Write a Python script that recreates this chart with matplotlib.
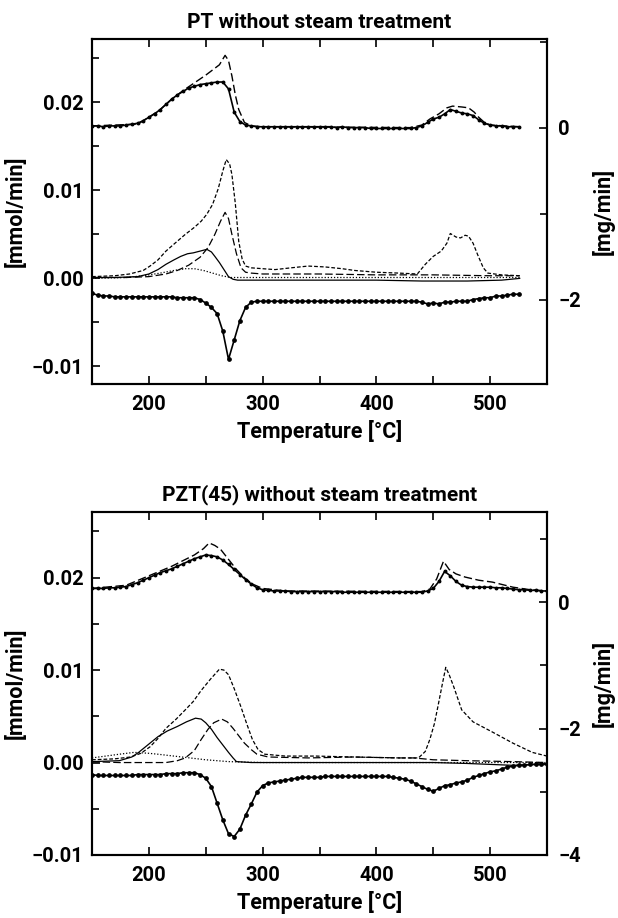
import matplotlib
matplotlib.use("Agg")
import matplotlib.pyplot as plt
from matplotlib.ticker import FixedLocator, FuncFormatter

plt.rcParams['font.family'] = ['Roboto', 'DejaVu Sans']
plt.rcParams['font.weight'] = 'bold'
plt.rcParams['axes.labelweight'] = 'bold'
plt.rcParams['axes.titleweight'] = 'bold'

"""
PT without steam treatment
upper curves -> right axis [mg/min], lower curves -> left axis [mmol/min]
"""
pt_up_T = list(range(150, 530, 5))
pt_up_solid = [0.02, 0.02, 0.01, 0.02, 0.02, 0.02, 0.03, 0.04, 0.05, 0.08,
               0.12, 0.16, 0.21, 0.27, 0.33, 0.38, 0.42, 0.46, 0.48, 0.50,
               0.51, 0.52, 0.53, 0.53, 0.45, 0.18, 0.07, 0.03, 0.02, 0.01,
               0.01, 0.01, 0.01, 0.01, 0.01, 0.01, 0.01, 0.01, 0.01, 0.01,
               0.01, 0.01, 0.01, 0.00, 0.01, 0.00, 0.00, 0.00, 0.00, -0.01,
               -0.01, -0.01, -0.01, -0.01, -0.01, -0.01, -0.01, 0.00, 0.02, 0.06,
               0.10, 0.12, 0.16, 0.21, 0.19, 0.17, 0.16, 0.14, 0.09, 0.05,
               0.03, 0.02, 0.02, 0.01, 0.01, 0.01]
pt_up_dash_T = [150, 190, 200, 210, 220, 230, 240, 250, 256, 262, 267, 270, 273, 276,
                279, 284, 290, 300, 430, 440, 447, 455, 462, 467, 475, 481, 486, 490,
                495, 500, 526]
pt_up_dash = [0.02, 0.04, 0.12, 0.21, 0.33, 0.43, 0.52, 0.61, 0.67, 0.73, 0.84, 0.78, 0.60, 0.38,
              0.21, 0.06, 0.02, 0.01, 0.00, 0.03, 0.10, 0.16, 0.23, 0.25, 0.24, 0.23, 0.18, 0.12,
              0.06, 0.03, 0.01]

pt_a_T = [150, 170, 183, 195, 201, 208, 215, 223, 232, 240, 246, 251, 256, 261, 265, 268,
          271, 273, 276, 279, 282, 285, 290, 300, 311, 325, 340, 355, 370, 381, 400, 420,
          436, 443, 450, 457, 462, 465, 470, 474, 478, 481, 485, 489, 494, 498, 510, 526]
pt_a = [0.0002, 0.0003, 0.0005, 0.0009, 0.0014, 0.0021, 0.0031, 0.0040, 0.0050, 0.0058,
        0.0065, 0.0073, 0.0084, 0.0102, 0.0122, 0.0135, 0.0130, 0.0118, 0.0085, 0.0042,
        0.0022, 0.0014, 0.0012, 0.0011, 0.0010, 0.0012, 0.0014, 0.0013, 0.0011, 0.0009,
        0.0007, 0.0006, 0.0005, 0.0016, 0.0025, 0.0031, 0.0040, 0.0051, 0.0047, 0.0046,
        0.0049, 0.0048, 0.0040, 0.0027, 0.0012, 0.0006, 0.0004, 0.0003]

pt_b_T = [150, 180, 200, 215, 225, 235, 245, 252, 258, 263, 267, 270, 273, 277, 281, 285,
          290, 300, 350, 400, 450, 500, 526]
pt_b = [0.0001, 0.0001, 0.0002, 0.0005, 0.0009, 0.0015, 0.0024, 0.0035, 0.0050, 0.0065,
        0.0075, 0.0068, 0.0050, 0.0028, 0.0012, 0.0007, 0.0006, 0.0005, 0.0005, 0.0004,
        0.0004, 0.0003, 0.0003]

pt_c_T = [150, 170, 190, 200, 208, 215, 222, 228, 234, 239, 245, 251, 255, 258, 262, 265,
          268, 270, 274, 278, 290, 320, 360, 400, 440, 480, 510, 526]
pt_c = [0.0001, 0.0001, 0.0002, 0.0005, 0.0010, 0.0016, 0.0021, 0.0025, 0.0028, 0.0029,
        0.0031, 0.0033, 0.0030, 0.0025, 0.0018, 0.0012, 0.0006, 0.0002, -0.0001, -0.0002,
        -0.0002, -0.0002, -0.0002, -0.0002, -0.0003, -0.0003, -0.0002, 0.0000]

pt_d_T = [150, 180, 195, 210, 222, 232, 240, 248, 256, 264, 272, 285, 320, 400, 526]
pt_d = [0.0000, 0.0001, 0.0003, 0.0006, 0.0009, 0.0011, 0.0011, 0.0009, 0.0006, 0.0003,
        0.0001, 0.0001, 0.0001, 0.0001, 0.0001]

pt_low_T = list(range(150, 530, 5))
pt_low = [-0.0017, -0.0019, -0.0020, -0.0020, -0.0021, -0.0021, -0.0021, -0.0021, -0.0021, -0.0021,
          -0.0021, -0.0021, -0.0021, -0.0021, -0.0021, -0.0022, -0.0022, -0.0022, -0.0022, -0.0024,
          -0.0028, -0.0033, -0.0040, -0.0060, -0.0092, -0.0070, -0.0048, -0.0033, -0.0027, -0.0026,
          -0.0026, -0.0026, -0.0026, -0.0026, -0.0026, -0.0026, -0.0026, -0.0026, -0.0026, -0.0026,
          -0.0026, -0.0026, -0.0026, -0.0026, -0.0026, -0.0026, -0.0026, -0.0026, -0.0026, -0.0026,
          -0.0026, -0.0026, -0.0026, -0.0026, -0.0026, -0.0026, -0.0026, -0.0026, -0.0027, -0.0029,
          -0.0028, -0.0029, -0.0027, -0.0027, -0.0026, -0.0026, -0.0026, -0.0024, -0.0023, -0.0022,
          -0.0022, -0.0020, -0.0020, -0.0019, -0.0018, -0.0018]

"""
PZT(45) without steam treatment
"""
pzt_up_T = list(range(150, 555, 5))
pzt_up_solid = [0.22, 0.22, 0.22, 0.23, 0.23, 0.24, 0.25, 0.28, 0.31, 0.35,
                0.39, 0.43, 0.47, 0.50, 0.53, 0.57, 0.61, 0.65, 0.69, 0.72,
                0.75, 0.74, 0.72, 0.67, 0.60, 0.52, 0.44, 0.36, 0.29, 0.23,
                0.20, 0.19, 0.18, 0.18, 0.18, 0.17, 0.17, 0.17, 0.17, 0.17,
                0.17, 0.17, 0.17, 0.17, 0.16, 0.16, 0.16, 0.16, 0.16, 0.16,
                0.16, 0.16, 0.16, 0.16, 0.16, 0.16, 0.16, 0.16, 0.16, 0.18,
                0.22, 0.33, 0.49, 0.42, 0.33, 0.27, 0.25, 0.24, 0.24, 0.24,
                0.24, 0.23, 0.23, 0.22, 0.21, 0.20, 0.20, 0.19, 0.19, 0.18,
                0.18]
pzt_up_dash_T = [150, 180, 200, 220, 240, 248, 253, 258, 263, 270, 277, 284, 291, 300, 320,
                 440, 447, 453, 459, 464, 470, 478, 490, 502, 520, 535, 550]
pzt_up_dash = [0.22, 0.27, 0.42, 0.57, 0.75, 0.85, 0.94, 0.90, 0.84, 0.68, 0.52, 0.39, 0.29, 0.22, 0.18,
               0.17, 0.21, 0.37, 0.65, 0.52, 0.45, 0.40, 0.35, 0.32, 0.24, 0.20, 0.18]

pzt_a_T = [150, 170, 184, 193, 201, 208, 215, 224, 232, 239, 246, 254, 262, 266, 270, 275,
           281, 286, 291, 296, 302, 320, 347, 380, 420, 437, 443, 447, 451, 454, 458, 461,
           464, 468, 475, 485, 502, 520, 537, 550]
pzt_a = [0.0003, 0.0004, 0.0006, 0.0010, 0.0017, 0.0026, 0.0037, 0.0047, 0.0057, 0.0066,
         0.0078, 0.0090, 0.0101, 0.0100, 0.0095, 0.0080, 0.0060, 0.0042, 0.0025, 0.0014,
         0.0009, 0.0007, 0.0007, 0.0006, 0.0005, 0.0005, 0.0012, 0.0025, 0.0042, 0.0060,
         0.0085, 0.0103, 0.0095, 0.0082, 0.0057, 0.0044, 0.0033, 0.0021, 0.0011, 0.0007]

pzt_b_T = [150, 174, 215, 225, 232, 240, 246, 252, 257, 264, 269, 274, 279, 284, 290, 295,
           305, 340, 380, 420, 433, 450, 480, 520, 550]
pzt_b = [0.0001, 0.0000, 0.0000, 0.0002, 0.0005, 0.0013, 0.0025, 0.0036, 0.0043, 0.0047,
         0.0044, 0.0037, 0.0029, 0.0021, 0.0014, 0.0009, 0.0006, 0.0005, 0.0006, 0.0005,
         0.0005, 0.0003, 0.0002, 0.0001, 0.0000]

pzt_c_T = [150, 174, 185, 191, 200, 208, 216, 225, 233, 241, 246, 250, 255, 260, 265, 270,
           274, 277, 290, 350, 400, 450, 480, 500, 520, 540, 550]
pzt_c = [0.0001, 0.0002, 0.0006, 0.0011, 0.0020, 0.0028, 0.0034, 0.0039, 0.0044, 0.0048,
         0.0047, 0.0043, 0.0036, 0.0027, 0.0019, 0.0011, 0.0005, 0.0001, 0.0000, 0.0000,
         0.0000, 0.0000, -0.0001, -0.0002, -0.0003, -0.0002, -0.0001]

pzt_d_T = [150, 174, 187, 200, 208, 229, 250, 270, 300, 400, 550]
pzt_d = [0.0005, 0.0009, 0.0011, 0.0010, 0.0009, 0.0006, 0.0003, 0.0001, 0.0000, 0.0000, 0.0000]

pzt_low_T = list(range(150, 555, 5))
pzt_low = [-0.0013, -0.0014, -0.0014, -0.0014, -0.0014, -0.0014, -0.0014, -0.0014, -0.0013, -0.0013,
           -0.0013, -0.0013, -0.0013, -0.0012, -0.0012, -0.0012, -0.0011, -0.0011, -0.0011, -0.0013,
           -0.0017, -0.0026, -0.0044, -0.0062, -0.0077, -0.0080, -0.0072, -0.0057, -0.0045, -0.0032,
           -0.0025, -0.0022, -0.0021, -0.0020, -0.0019, -0.0018, -0.0017, -0.0016, -0.0016, -0.0016,
           -0.0016, -0.0015, -0.0015, -0.0015, -0.0015, -0.0015, -0.0015, -0.0015, -0.0015, -0.0015,
           -0.0015, -0.0015, -0.0015, -0.0016, -0.0017, -0.0018, -0.0020, -0.0023, -0.0026, -0.0029,
           -0.0031, -0.0028, -0.0025, -0.0024, -0.0022, -0.0021, -0.0019, -0.0016, -0.0014, -0.0012,
           -0.0010, -0.0009, -0.0007, -0.0005, -0.0004, -0.0003, -0.0003, -0.0002, -0.0002, -0.0002,
           -0.0002]

"""
figure, 618 x 918 px
"""
fig = plt.figure(figsize=(6.18, 9.18), dpi=100)

short_dash = (0, (3.0, 1.6))
long_dash = (0, (6.0, 2.5))


def fmt_left(v, pos):
    s = "%.2f" % abs(v)
    return ("\u2212" + s) if v < -1e-9 else s


def fmt_right(v, pos):
    return ("\u2212%d" % abs(v)) if v < -1e-9 else "%d" % v


def setup_panel(rect, title, ylim_left, ylim_right):
    ax = fig.add_axes(rect)
    ax2 = ax.twinx()
    ax.set_xlim(150, 550)
    ax.set_ylim(*ylim_left)
    ax2.set_ylim(*ylim_right)

    ax.xaxis.set_major_locator(FixedLocator([200, 300, 400, 500]))
    ax.xaxis.set_minor_locator(FixedLocator([250, 350, 450]))
    ax.yaxis.set_major_locator(FixedLocator([-0.01, 0.0, 0.01, 0.02]))
    ax.yaxis.set_minor_locator(FixedLocator([-0.005, 0.005, 0.015, 0.025]))
    ax.yaxis.set_major_formatter(FuncFormatter(fmt_left))
    ax2.yaxis.set_major_locator(FixedLocator([-4, -2, 0]))
    ax2.yaxis.set_minor_locator(FixedLocator([-3, -1, 1]))
    ax2.yaxis.set_major_formatter(FuncFormatter(fmt_right))

    ax.tick_params(axis='x', which='both', direction='in', top=True, length=6, width=1.2,
                   labelsize=14.5, pad=8)
    ax.tick_params(axis='y', which='major', direction='in', right=False, length=6, width=1.2,
                   labelsize=14.5, pad=6)
    ax.tick_params(axis='y', which='minor', direction='in', right=False, length=5, width=1.2)
    ax2.tick_params(axis='y', which='major', direction='in', length=6, width=1.2,
                    labelsize=14.5, pad=8)
    ax2.tick_params(axis='y', which='minor', direction='in', length=5, width=1.2)
    for sp in ax.spines.values():
        sp.set_linewidth(1.5)
    for sp in ax2.spines.values():
        sp.set_linewidth(1.5)

    ax.set_title(title, fontsize=15, pad=8)
    ax.set_xlabel("Temperature [\u00b0C]", fontsize=15.5, labelpad=4)
    ax.set_ylabel("[mmol/min]", fontsize=15.5, labelpad=4)
    ax2.set_ylabel("[mg/min]", fontsize=15.5, labelpad=8)
    return ax, ax2


# ---- top panel: PT ----
ax, ax2 = setup_panel([92 / 618, 1 - 384 / 918, 455 / 618, 345 / 918],
                      "PT without steam treatment", (-0.0120, 0.0272), (-2.98, 1.03))

ax2.plot(pt_up_T, pt_up_solid, 'k-', lw=1.2, marker='o', ms=1.8)
ax2.plot(pt_up_dash_T, pt_up_dash, 'k', lw=1.0, linestyle=long_dash)

ax.plot(pt_a_T, pt_a, 'k', lw=0.9, linestyle=short_dash)
ax.plot(pt_b_T, pt_b, 'k', lw=0.9, linestyle=long_dash)
ax.plot(pt_c_T, pt_c, 'k-', lw=0.9)
ax.plot(pt_d_T, pt_d, 'k', lw=0.9, linestyle=(0, (1, 1.5)))
ax.plot(pt_low_T, pt_low, 'k-', lw=1.2, marker='o', ms=2.4)

# ---- bottom panel: PZT(45) ----
ax, ax2 = setup_panel([92 / 618, 1 - 855 / 918, 455 / 618, 343 / 918],
                      "PZT(45) without steam treatment", (-0.0100, 0.0271), (-4.0, 1.43))

ax2.plot(pzt_up_T, pzt_up_solid, 'k-', lw=1.2, marker='o', ms=1.8)
ax2.plot(pzt_up_dash_T, pzt_up_dash, 'k', lw=1.0, linestyle=long_dash)

ax.plot(pzt_a_T, pzt_a, 'k', lw=0.9, linestyle=short_dash)
ax.plot(pzt_b_T, pzt_b, 'k', lw=0.9, linestyle=long_dash)
ax.plot(pzt_c_T, pzt_c, 'k-', lw=0.9)
ax.plot(pzt_d_T, pzt_d, 'k', lw=0.9, linestyle=(0, (1, 1.5)))
ax.plot(pzt_low_T, pzt_low, 'k-', lw=1.2, marker='o', ms=2.4)

fig.savefig("out.png", dpi=100)
